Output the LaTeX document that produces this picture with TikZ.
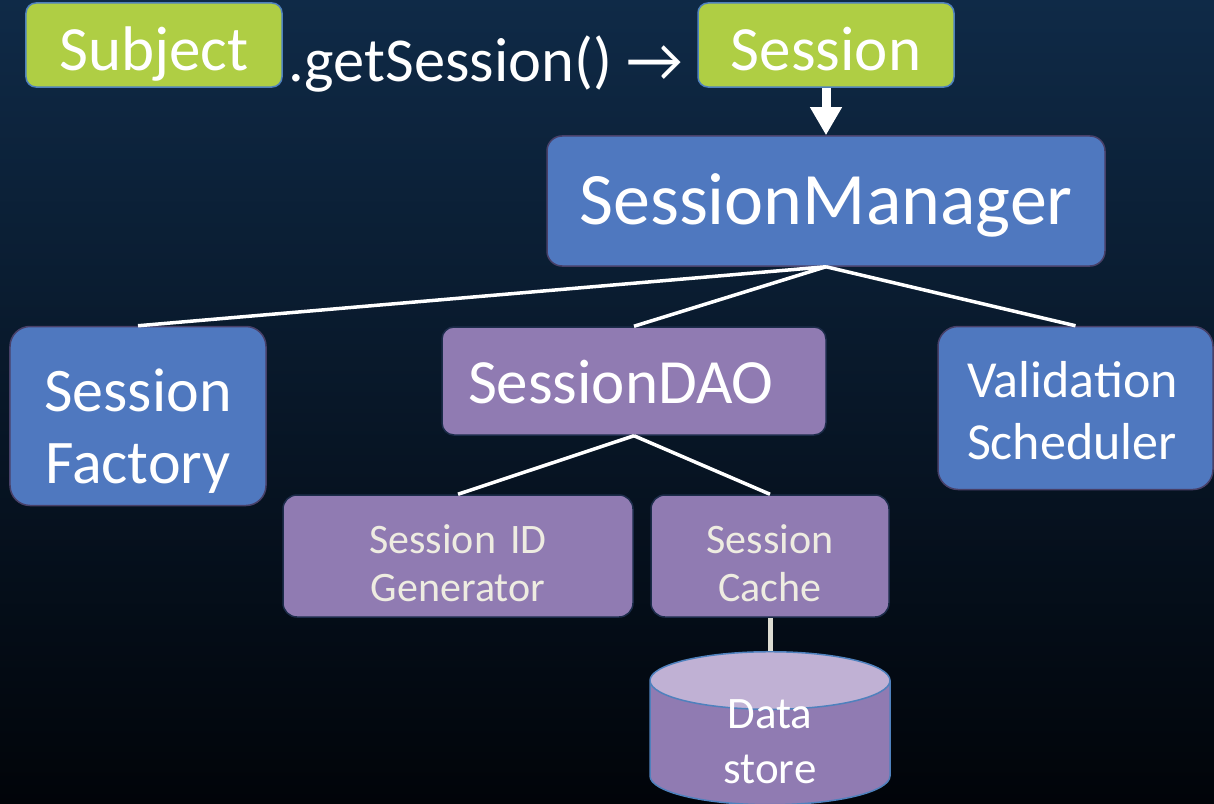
\documentclass[tikz,border=0pt]{standalone}
\usepackage{fontspec}
\setmainfont{Carlito}
\setsansfont{Carlito}
\usetikzlibrary{arrows.meta}
\usetikzlibrary{shapes.geometric}
\definecolor{bgtop}{RGB}{15,42,71}
\definecolor{bgbottom}{RGB}{1,4,9}
\definecolor{kiwi}{RGB}{175,206,68}
\definecolor{steel}{RGB}{79,120,191}
\definecolor{lilac}{RGB}{144,123,178}
\definecolor{lilactop}{RGB}{192,177,212}
\definecolor{edgeblue}{RGB}{79,129,189}
\definecolor{edgeplum}{RGB}{72,64,104}
\definecolor{edgenavy}{RGB}{28,44,74}
\definecolor{cream}{RGB}{238,236,225}
\newcommand{\fsize}[2]{\fontsize{#1bp}{#2bp}\selectfont}
\tikzset{
	>={Triangle[width=30bp,length=28bp]},
	greenbox/.style={
		rectangle,
		rounded corners=10bp,
		fill=kiwi,
		draw=edgeblue, line width=1.5bp,
		text=white,
		inner sep=0pt,
		minimum width=256bp,
		minimum height=84bp,
		text height=52bp, text depth=0pt,
		font=\fsize{63}{76}},
	bluebox/.style={
		rectangle,
		rounded corners=20bp,
		fill=steel,
		draw=edgeplum, line width=1.5bp,
		text=white,
		inner sep=0pt,
		align=center},
	purplebox/.style={
		rectangle,
		rounded corners=14bp,
		fill=lilac,
		draw=edgenavy, line width=1.5bp,
		inner sep=0pt,
		align=center},
	branch/.style={draw=white, line width=3.5bp},
	pointer/.style={draw=white, line width=9bp, ->},
}

\begin{document}
\begin{tikzpicture}
	[x=1bp, y=-1bp, font=\sffamily]

	\useasboundingbox (0,0) rectangle (1214,804);
	\shade[top color=bgtop, bottom color=bgbottom] (0,0) rectangle (1214,804);
	\clip (0,0) rectangle (1214,804);

	% top row
	\node[greenbox] (subject) at (154,45) {Subject};
	\node[anchor=base west, text=white, inner sep=0pt, font=\fsize{62.5}{75}] (call) at (288,82) {.getSession() →};
	\node[greenbox] (session) at (826,45) {Session};

	\node[bluebox, minimum width=558bp, minimum height=130bp, rounded corners=15bp,
		text height=47bp, text depth=0pt, font=\fsize{74}{89}] (manager) at (826,201) {SessionManager};

	% children of the manager
	\node[bluebox, minimum width=256bp, minimum height=179bp, text width=200bp,
		text height=40bp, text depth=50bp, font=\fsize{62}{72}] (factory) at (138,416) {Session\\Factory};
	\node[purplebox, text=white, minimum width=384bp, minimum height=108bp, rounded corners=12bp,
		align=left, text width=332bp, text height=44bp, text depth=0pt, font=\fsize{63}{76}] (dao) at (634,381) {SessionDAO};
	\node[bluebox, align=left, minimum width=275bp, minimum height=163bp, text width=217bp,
		text height=40bp, text depth=62bp, font=\fsize{52}{62}] (validation) at (1075.5,408) {Validation\\Scheduler};

	% children of the DAO
	\node[purplebox, text=cream, minimum width=350bp, minimum height=122bp, text width=220bp,
		text height=30bp, text depth=36bp, font=\fsize{42}{48.5}] (idgen) at (458,556) {Session ID\\Generator};
	\node[purplebox, text=cream, minimum width=238bp, minimum height=122bp, text width=180bp,
		text height=30bp, text depth=36bp, font=\fsize{42}{48.5}] (cache) at (770,556) {Session\\Cache};

	\node[shape=cylinder, shape border rotate=90, aspect=0.48,
		cylinder uses custom fill, cylinder body fill=lilac, cylinder end fill=lilactop,
		draw=edgeblue, line width=1.5bp, inner sep=0pt,
		minimum width=240bp, minimum height=153bp, text width=120bp,
		text height=15bp, text depth=45bp,
		text=white, align=center, font=\fsize{45}{55}] (store) at (770,743) {Data\\store};

	\draw[pointer] (session) -- (manager);
	\draw[branch] (manager.south) -- (factory.north);
	\draw[branch] (manager.south) -- (dao.north);
	\draw[branch] (manager.south) -- (validation.north);
	\draw[branch] (dao.south) -- (idgen.north);
	\draw[branch] (dao.south) -- (cache.north);
	\draw[draw=cream!85!gray, line width=5bp] (cache.south) -- (store.north);

\end{tikzpicture}
\end{document}
